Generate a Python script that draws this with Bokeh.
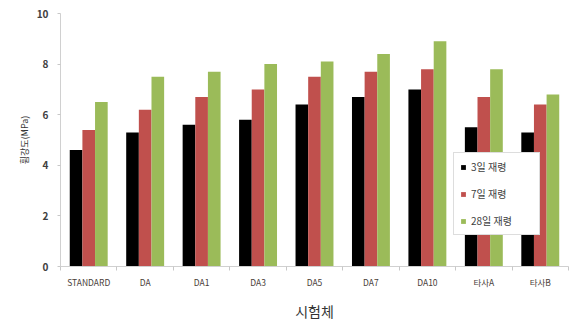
from bokeh.plotting import figure
from bokeh.models import ColumnDataSource, Range1d, FixedTicker, Legend, LegendItem
from bokeh.transform import dodge
from bokeh.embed import file_html
from bokeh.resources import INLINE

# Flexural strength (MPa) by specimen and curing age
categories = ["STANDARD", "DA", "DA1", "DA3", "DA5", "DA7", "DA10", "타사A", "타사B"]
day3 = [4.6, 5.3, 5.6, 5.8, 6.4, 6.7, 7.0, 5.5, 5.3]
day7 = [5.4, 6.2, 6.7, 7.0, 7.5, 7.7, 7.8, 6.7, 6.4]
day28 = [6.5, 7.5, 7.7, 8.0, 8.1, 8.4, 8.9, 7.8, 6.8]
series_labels = ["3일 재령", "7일 재령", "28일 재령"]
y_ticks = [0, 2, 4, 6, 8, 10]

FONT = "Noto Sans CJK KR"
colors = ["#000000", "#c0504d", "#9bbb59"]

n = len(categories)
centers = [i + 0.5 for i in range(n)]
source = ColumnDataSource(dict(x=centers, cat=categories, d3=day3, d7=day7, d28=day28))

p = figure(
    width=575, height=323,
    x_range=Range1d(0, n), y_range=Range1d(0, 10),
    output_backend="svg", toolbar_location=None,
    min_border_left=60, min_border_right=7, min_border_top=13, min_border_bottom=20,
)
p.outline_line_color = None
p.background_fill_color = "white"
p.border_fill_color = "white"
p.xgrid.visible = False
p.ygrid.visible = False

bw = 0.224
renderers = []
for field, off, col in zip(["d3", "d7", "d28"], [-bw, 0, bw], colors):
    r = p.vbar(x=dodge("x", off), top=field, width=bw, bottom=0,
               source=source, fill_color=col, line_color=None)
    renderers.append(r)

# x axis: labels at group centers, small ticks at group boundaries
xa = p.xaxis[0]
xa.ticker = FixedTicker(ticks=centers, minor_ticks=list(range(n + 1)))
xa.major_label_overrides = {c: lab for c, lab in zip(centers, categories)}
xa.major_tick_line_color = None
xa.minor_tick_line_color = "#c8c8c8"
xa.minor_tick_in = 0
xa.minor_tick_out = 4
xa.axis_line_color = "#d0d0d0"
xa.major_label_text_font = FONT
xa.major_label_text_font_size = "8.5px"
xa.major_label_text_color = "#4a4038"
xa.major_label_standoff = 3
xa.axis_label = "시험체"
xa.axis_label_text_font = FONT
xa.axis_label_text_font_size = "14px"
xa.axis_label_text_font_style = "normal"
xa.axis_label_text_color = "#333333"
xa.axis_label_standoff = 10

ya = p.yaxis[0]
ya.ticker = FixedTicker(ticks=y_ticks)
ya.minor_tick_line_color = None
ya.major_tick_in = 0
ya.major_tick_out = 3
ya.major_tick_line_color = "#c8c8c8"
ya.axis_line_color = "#d0d0d0"
ya.major_label_text_font = FONT
ya.major_label_text_font_size = "10px"
ya.major_label_text_font_style = "bold"
ya.major_label_text_color = "#404040"
ya.major_label_standoff = 9
ya.axis_label = "휨강도(MPa)"
ya.axis_label_text_font = FONT
ya.axis_label_text_font_size = "9px"
ya.axis_label_text_font_style = "normal"
ya.axis_label_text_color = "#333333"
ya.axis_label_standoff = 3

legend = Legend(
    items=[LegendItem(label=lab, renderers=[r]) for lab, r in zip(series_labels, renderers)],
    location=(393, 31),
    border_line_color="#bbbbbb", border_line_width=1,
    background_fill_color="white", background_fill_alpha=1.0,
    padding=6, spacing=12, label_height=12, label_width=62,
    glyph_width=6, glyph_height=6, label_standoff=5, margin=0,
    label_text_font=FONT, label_text_font_size="10px", label_text_color="#404040",
)
p.add_layout(legend)

open("out.html", "w").write(file_html(p, INLINE))
